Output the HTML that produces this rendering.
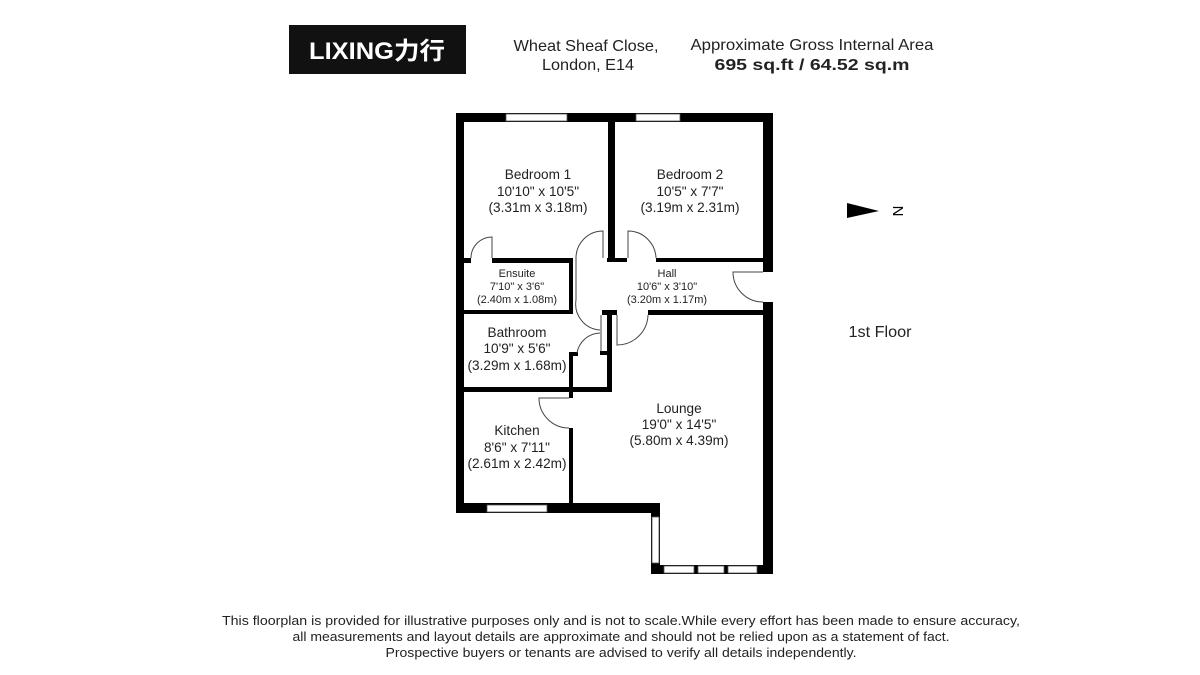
<!DOCTYPE html>
<html><head><meta charset="utf-8"><style>
html,body{margin:0;padding:0;background:#fff;width:1200px;height:675px;overflow:hidden}
svg{display:block}
</style></head><body>
<svg width="1200" height="675" viewBox="0 0 1200 675" xmlns="http://www.w3.org/2000/svg" font-family="Liberation Sans, sans-serif">
<rect x="289" y="25" width="177" height="49" fill="#111"/>
<text x="377" y="59" fill="#fff" font-size="24" font-weight="bold" text-anchor="middle" font-family="Liberation Sans, Noto Sans CJK SC, sans-serif" textLength="136" lengthAdjust="spacingAndGlyphs">LIXING力行</text>
<g font-size="16" fill="#222" text-anchor="middle">
<text x="586" y="51" textLength="145" lengthAdjust="spacingAndGlyphs">Wheat Sheaf Close,</text>
<text x="588" y="70" textLength="92" lengthAdjust="spacingAndGlyphs">London, E14</text>
<text x="812" y="50" textLength="243" lengthAdjust="spacingAndGlyphs">Approximate Gross Internal Area</text>
<text x="812" y="70" font-weight="bold" textLength="195" lengthAdjust="spacingAndGlyphs">695 sq.ft / 64.52 sq.m</text>
<text x="880" y="337" textLength="63" lengthAdjust="spacingAndGlyphs">1st Floor</text>
</g>
<polygon points="847,203 879,211 847,218" fill="#000"/>
<text x="897" y="211" font-size="15" text-anchor="middle" dominant-baseline="middle" transform="rotate(90 897 211)">N</text>
<g fill="#000">
<rect x="456" y="113" width="317" height="9"/>
<rect x="456" y="113" width="8" height="400"/>
<rect x="763" y="113" width="10" height="159"/>
<rect x="763" y="302" width="10" height="272"/>
<rect x="456" y="503" width="204" height="10"/>
<rect x="651" y="503" width="9" height="71"/>
<rect x="651" y="565" width="122" height="9"/>
<rect x="608" y="113" width="7" height="149"/>
<rect x="464" y="258" width="7" height="5"/>
<rect x="492" y="258" width="81" height="5"/>
<rect x="569" y="258" width="4" height="55"/>
<rect x="464" y="310" width="109" height="4"/>
<rect x="607" y="258" width="20" height="4"/>
<rect x="656" y="258" width="107" height="4"/>
<rect x="602" y="310" width="15" height="5"/>
<rect x="648" y="310" width="115" height="5"/>
<rect x="607" y="310" width="5" height="82"/>
<rect x="600" y="351" width="12" height="4"/>
<rect x="456" y="387" width="156" height="5"/>
<rect x="569" y="353" width="4" height="45"/>
<rect x="569" y="352" width="9" height="4"/>
<rect x="569" y="428" width="4" height="80"/>
</g>
<g fill="#fff" stroke="#555" stroke-width="0.8">
<rect x="506" y="114" width="61" height="7"/>
<rect x="636" y="114" width="44" height="7"/>
<rect x="487" y="505" width="60" height="7"/>
<rect x="652" y="517" width="7" height="46"/>
<rect x="664" y="566" width="30" height="7"/>
<rect x="698" y="566" width="26" height="7"/>
<rect x="728" y="566" width="29" height="7"/>
</g>
<g fill="none" stroke="#444" stroke-width="1">
<line x1="601" y1="315" x2="601" y2="351"/>
<path d="M492 258 L492 237 A21 21 0 0 0 471 258"/>
<path d="M603 258 L603 231 A27 27 0 0 0 576 258 L576 300 A26 26 0 0 0 600 330"/>
<path d="M600 333 A24 24 0 0 0 577 353"/>
<path d="M628 258 L628 231 A28 28 0 0 1 656 258"/>
<path d="M617 315 L617 345 A31 31 0 0 0 648 315"/>
<path d="M763 272 L733 272 A30 30 0 0 0 763 302"/>
<path d="M569 428 A30 30 0 0 1 539 398 L569 398"/>
</g>
<g font-size="13.6" fill="#222" text-anchor="middle">
<text x="538" y="179">Bedroom 1</text>
<text x="538" y="196">10'10" x 10'5"</text>
<text x="538" y="212">(3.31m x 3.18m)</text>
<text x="690" y="179">Bedroom 2</text>
<text x="690" y="196">10'5" x 7'7"</text>
<text x="690" y="212">(3.19m x 2.31m)</text>
<text x="517" y="337">Bathroom</text>
<text x="517" y="353">10'9" x 5'6"</text>
<text x="517" y="370">(3.29m x 1.68m)</text>
<text x="517" y="435">Kitchen</text>
<text x="517" y="452">8'6" x 7'11"</text>
<text x="517" y="468">(2.61m x 2.42m)</text>
<text x="679" y="413">Lounge</text>
<text x="679" y="429">19'0" x 14'5"</text>
<text x="679" y="445">(5.80m x 4.39m)</text>
</g>
<g font-size="11" fill="#222" text-anchor="middle">
<text x="517" y="277">Ensuite</text>
<text x="517" y="290">7'10" x 3'6"</text>
<text x="517" y="303">(2.40m x 1.08m)</text>
<text x="667" y="277">Hall</text>
<text x="667" y="290">10'6" x 3'10"</text>
<text x="667" y="303">(3.20m x 1.17m)</text>
</g>
<g font-size="13" fill="#222" text-anchor="middle">
<text x="621" y="625" textLength="798" lengthAdjust="spacingAndGlyphs">This floorplan is provided for illustrative purposes only and is not to scale.While every effort has been made to ensure accuracy,</text>
<text x="621" y="641" textLength="657" lengthAdjust="spacingAndGlyphs">all measurements and layout details are approximate and should not be relied upon as a statement of fact.</text>
<text x="621" y="657" textLength="471" lengthAdjust="spacingAndGlyphs">Prospective buyers or tenants are advised to verify all details independently.</text>
</g>
</svg>
</body></html>
